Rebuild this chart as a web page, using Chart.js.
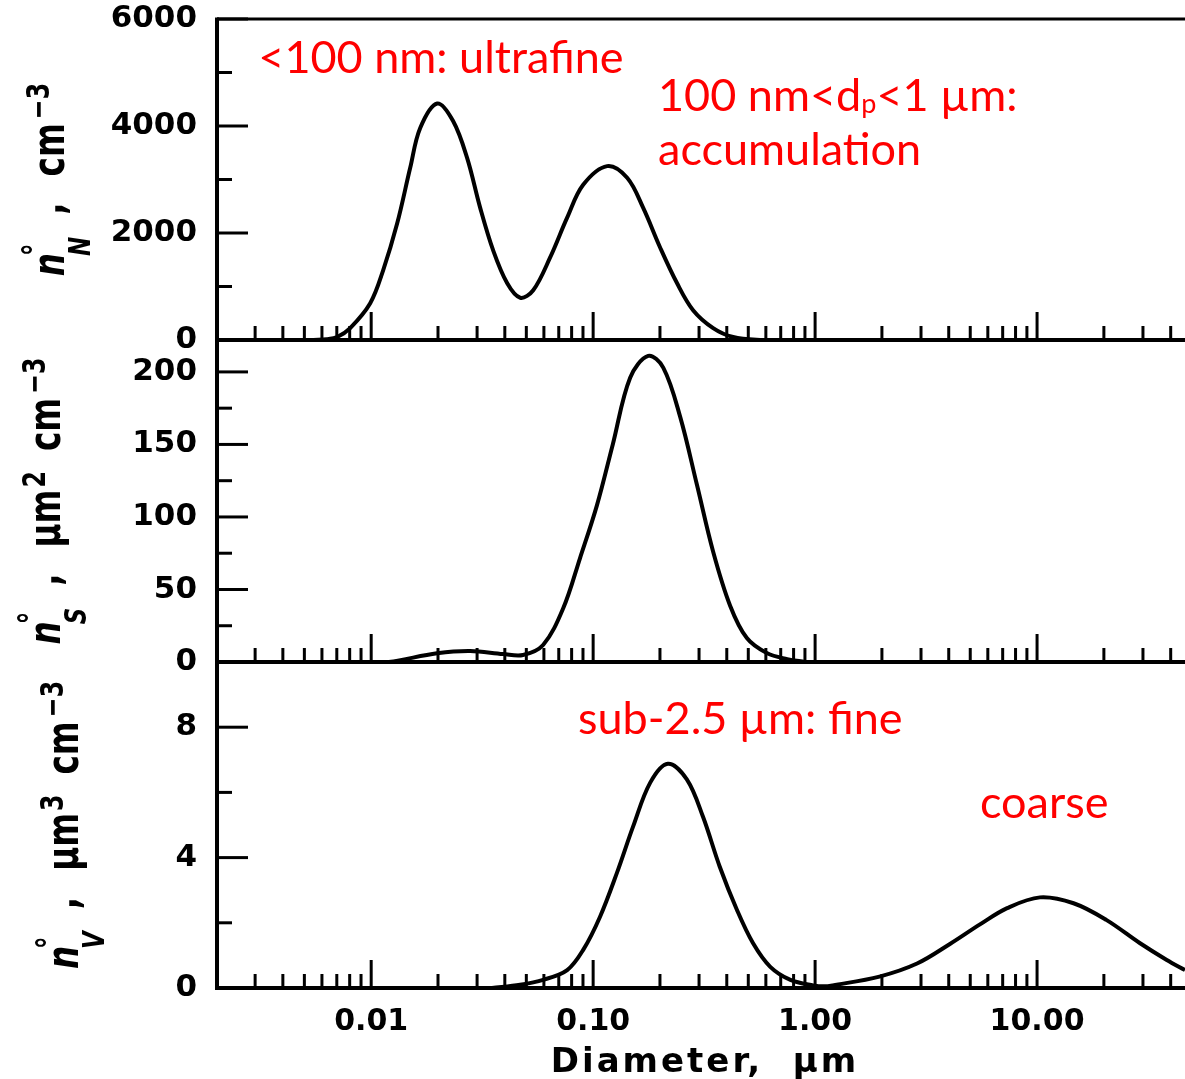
<!DOCTYPE html>
<html>
<head>
<meta charset="utf-8">
<script src="https://cdn.jsdelivr.net/npm/chart.js"></script>
<style>
  html, body { margin: 0; padding: 0; background: #fff; }
  #wrap { width: 1185px; height: 1079px; overflow: hidden; }
</style>
</head>
<body>
<div id="wrap"><canvas id="chart" width="1185" height="1079"></canvas></div>
<script>
// ---- values (diameter in µm) ----
const numberD = [0.0055, 0.0063, 0.00703, 0.00804, 0.0099, 0.01132, 0.01309, 0.01499, 0.01663, 0.01983,
  0.02339, 0.02705, 0.03096, 0.03545, 0.04101, 0.04693, 0.0537, 0.06402, 0.07637, 0.09017,
  0.1156, 0.1423, 0.1679, 0.2003, 0.2389, 0.282, 0.3473, 0.4273, 0.5653, 0.75];
const numberN = [0, 15, 56, 223, 688, 1302, 2176, 3218, 3962, 4420,
  4092, 3404, 2474, 1674, 1060, 790, 930, 1544, 2288, 2900,
  3250, 3032, 2474, 1730, 1060, 558, 223, 56, 0, 0];

const surfaceD = [0.01, 0.012, 0.0198, 0.0279, 0.0393, 0.0483, 0.0595, 0.0733, 0.0873, 0.104,
  0.1226, 0.1468, 0.177, 0.2069, 0.2467, 0.2937, 0.3473, 0.4137, 0.4926, 0.6085, 0.7493, 0.9];
const surfaceS = [0, 0, 6, 7.6, 5.5, 4.8, 11.7, 37, 71.7, 108,
  150, 196, 211, 203, 169, 122, 76, 39, 16.5, 6, 2, 0];

const volumeD = [0.035, 0.0469, 0.0595, 0.0764, 0.0902, 0.1073, 0.1281, 0.1513, 0.1808, 0.217,
  0.2643, 0.3123, 0.3719, 0.4442, 0.5247, 0.6281, 0.774, 0.9811, 1.1, 1.2,
  1.95, 2.88, 4.05, 5.53, 7.33, 10.3, 14.6, 20.5, 29.0, 38.4, 46.4];
const volumeV = [0, 0.1, 0.25, 0.55, 1.17, 2.18, 3.54, 4.95, 6.3, 6.88,
  6.4, 5.26, 3.72, 2.4, 1.38, 0.65, 0.25, 0.08, 0.05, 0.08,
  0.35, 0.75, 1.35, 1.95, 2.45, 2.78, 2.6, 2.09, 1.38, 0.86, 0.55];

// ---- axes ----
const xTickValues = [0.01, 0.1, 1, 10];
const xTickLabels = ["0.01", "0.10", "1.00", "10.00"];
const xDecades = [0.001, 0.01, 0.1, 1, 10];
const xMinorSteps = [2, 3, 4, 5, 6, 7, 8, 9];

const nTicks = [0, 2000, 4000, 6000];
const nMinor = [1000, 3000, 5000];
const sTicks = [0, 50, 100, 150, 200];
const sMinor = [25, 75, 125, 175];
const vTicks = [0, 4, 8];
const vMinor = [2, 6];

const X_MIN = 0.00202, X_MAX = 46.4;

//------------------------------------------------------------------
const pairs = (xs, ys) => xs.map((x, i) => ({ x: x, y: ys[i] }));
const lineStyle = {
  borderColor: "#000", borderWidth: 4, pointRadius: 0, fill: false,
  tension: 0.35
};
const tickFont = { family: "DejaVu Sans", weight: "bold", size: 31 };

function yScale(max, ticks, weight) {
  return {
    type: "linear", position: "left", stack: "panels", stackWeight: weight,
    min: 0, max: max,
    grid: { display: false, drawTicks: false },
    border: { display: false },
    afterBuildTicks: (s) => { s.ticks = ticks.map(v => ({ value: v })); },
    ticks: { autoSkip: false, padding: 20, color: "#000", font: tickFont, callback: (v) => String(v) },
    afterFit: (s) => { s.width = 217; s.paddingTop = 0; s.paddingBottom = 0; }
  };
}

// panel outlines and the inward tick marks
const framePlugin = {
  id: "frame",
  afterDraw(chart) {
    const { ctx, chartArea, scales } = chart;
    const x = scales.x;
    const line = (x1, y1, x2, y2) => { ctx.beginPath(); ctx.moveTo(x1, y1); ctx.lineTo(x2, y2); ctx.stroke(); };
    ctx.save();
    ctx.strokeStyle = "#000";
    ctx.lineWidth = 3;
    line(chartArea.left, chartArea.top, chartArea.right, chartArea.top);
    ctx.lineWidth = 4;
    line(chartArea.left, chartArea.top - 1.5, chartArea.left, chartArea.bottom + 2);

    const panels = [["yN", nTicks, nMinor], ["yS", sTicks, sMinor], ["yV", vTicks, vMinor]];
    panels.forEach(([id, major, minor]) => {
      const ys = scales[id];
      const y0 = ys.getPixelForValue(0);
      ctx.lineWidth = 4;
      line(chartArea.left, y0, chartArea.right, y0);
      ctx.lineWidth = 3;
      xDecades.forEach(dec => {
        [1].concat(xMinorSteps).forEach(m => {
          const v = m * dec;
          if (v <= x.min * 1.2 || v > x.max) return;
          const px = x.getPixelForValue(v);
          line(px, y0, px, y0 - (m === 1 ? 28 : 14));
        });
      });
      major.forEach(v => {
        if (v === 0) return;
        const py = ys.getPixelForValue(v);
        line(chartArea.left, py, chartArea.left + 31, py);
      });
      minor.forEach(v => {
        const py = ys.getPixelForValue(v);
        line(chartArea.left, py, chartArea.left + 15, py);
      });
    });
    ctx.restore();
  }
};

// rotated y titles with super/subscripts
const f = (size, it) => `${it ? "italic " : ""}bold ${size}px "DejaVu Sans"`;
const SQ = 0.74;
function titleCols(sub, power) {
  const cols = [
    { gap: -3, items: [{ t: "n", font: f(44, true), dv: 0 }] },
    { gap: 22, items: [{ t: "°", font: f(34), dv: -18 }, { t: sub, font: f(31, true), dv: 26 }] },
    { gap: 26, items: [{ t: ",", font: f(44), dv: 0 }] }
  ];
  if (power) {
    cols.push({ gap: 2, items: [{ t: "µm", font: f(44), dv: 0 }] });
    cols.push({ gap: 20, items: [{ t: power, font: f(32), dv: -15 }] });
  }
  cols.push({ gap: 4, items: [{ t: "cm", font: f(44), dv: 0 }] });
  cols.push({ gap: 0, items: [{ t: "−3", font: f(32), dv: -15 }] });
  return cols;
}
const yTitles = [
  { id: "yN", baseX: 64, cols: titleCols("N", null) },
  { id: "yS", baseX: 60, cols: titleCols("S", "2") },
  { id: "yV", baseX: 78, cols: titleCols("V", "3") }
];

const titlePlugin = {
  id: "titles",
  afterDraw(chart) {
    const { ctx, scales } = chart;
    ctx.save();
    ctx.fillStyle = "#000";
    ctx.textBaseline = "alphabetic";
    yTitles.forEach(tt => {
      const ys = scales[tt.id];
      const cy = (ys.top + ys.bottom) / 2;
      const widths = tt.cols.map(c => Math.max(...c.items.map(it => { ctx.font = it.font; return ctx.measureText(it.t).width * SQ; })));
      let total = 0;
      tt.cols.forEach((c, i) => { total += widths[i] + (i < tt.cols.length - 1 ? c.gap : 0); });
      ctx.save();
      ctx.translate(tt.baseX, cy);
      ctx.rotate(-Math.PI / 2);
      let u = -total / 2;
      tt.cols.forEach((c, i) => {
        c.items.forEach(it => {
          ctx.font = it.font;
          ctx.save();
          ctx.translate(u, it.dv);
          ctx.scale(SQ, 1);
          ctx.fillText(it.t, 0, 0);
          ctx.restore();
        });
        u += widths[i] + c.gap;
      });
      ctx.restore();
    });

    // x title
    const x = scales.x;
    ctx.font = f(34);
    ctx.letterSpacing = "3px";
    ctx.textAlign = "center";
    ctx.fillText("Diameter,  µm", (x.left + x.right) / 2 + 4, 1072);
    ctx.restore();
  }
};

// red annotations
const redNotes = [
  { id: "yN", x: 0.0031, y: 4985, parts: [["<100 nm: ultrafine"]] },
  { id: "yN", x: 0.196, y: 4278, parts: [["100 nm<d"], ["p", true], ["<1 µm:"]] },
  { id: "yN", x: 0.196, y: 3274, parts: [["accumulation"]] },
  { id: "yV", x: 0.0855, y: 7.78, parts: [["sub-2.5 µm: fine"]] },
  { id: "yV", x: 5.53, y: 5.23, parts: [["coarse"]] }
];
const notePlugin = {
  id: "notes",
  afterDraw(chart) {
    const { ctx, scales } = chart;
    ctx.save();
    ctx.fillStyle = "#ff0000";
    ctx.textBaseline = "alphabetic";
    ctx.textAlign = "left";
    redNotes.forEach(n => {
      let px = scales.x.getPixelForValue(n.x);
      const py = scales[n.id].getPixelForValue(n.y);
      n.parts.forEach(([t, sub]) => {
        ctx.font = sub ? "27px Lato" : "45px Lato";
        ctx.fillText(t, px, py + (sub ? 2 : 0));
        px += ctx.measureText(t).width;
      });
    });
    ctx.restore();
  }
};

new Chart(document.getElementById("chart"), {
  type: "line",
  data: {
    datasets: [
      Object.assign({ data: pairs(volumeD, volumeV), yAxisID: "yV" }, lineStyle),
      Object.assign({ data: pairs(surfaceD, surfaceS), yAxisID: "yS" }, lineStyle),
      Object.assign({ data: pairs(numberD, numberN), yAxisID: "yN" }, lineStyle)
    ]
  },
  options: {
    responsive: false,
    animation: false,
    layout: { padding: { top: 19, right: 0, left: 0, bottom: 0 } },
    plugins: { legend: { display: false }, tooltip: { enabled: false } },
    scales: {
      x: {
        type: "logarithmic", position: "bottom", min: X_MIN, max: X_MAX,
        grid: { display: false, drawTicks: false },
        border: { display: false },
        afterBuildTicks: (s) => { s.ticks = xTickValues.map(v => ({ value: v })); },
        ticks: {
          autoSkip: false, maxRotation: 0, padding: 16, color: "#000",
          font: { family: "DejaVu Sans", weight: "bold", size: 30 },
          callback: (v, i) => xTickLabels[i]
        },
        afterFit: (s) => { s.height = 91; s.paddingLeft = 0; s.paddingRight = 0; }
      },
      yV: yScale(10, vTicks, 326),
      yS: yScale(222, sTicks, 322),
      yN: yScale(6000, nTicks, 321)
    }
  },
  plugins: [framePlugin, titlePlugin, notePlugin]
});
</script>
</body>
</html>
